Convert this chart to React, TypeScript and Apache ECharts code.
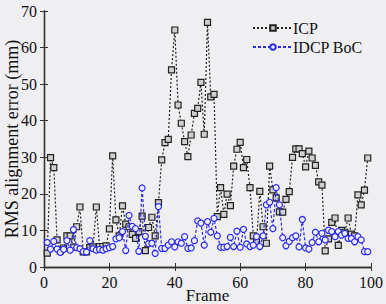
import React, { useEffect, useRef } from "react";
import * as echarts from "echarts";

const frames: number[] = Array.from({ length: 99 }, (_, i) => i + 1);

const icp: number[] = [
  3.8, 29.9, 27.2, 7.4, 4.4, 5.2, 8.5, 8.5, 5.4, 11,
  16.4, 4.1, 4.1, 5.3, 5.5, 16.4, 5.6, 5.6, 5.8, 10.4,
  30.4, 12.9, 8.5, 16.7, 11.7, 11, 8.9, 7.8, 9.7, 13.9,
  4.5, 10.8, 13.6, 8.5, 17.6, 29.3, 34, 34.9, 53.9, 64.8,
  44.3, 39.3, 34.3, 30.2, 36.1, 42, 43.4, 50.5, 36.3, 66.9,
  46.5, 47.2, 13.8, 21.7, 14.4, 19.9, 16.8, 27.6, 32.2, 34.1,
  27.2, 29.4, 21.7, 8.5, 6.9, 20.7, 11, 6.5, 27.6, 21.1,
  18.9, 15.1, 15, 18.5, 20.6, 30, 32.3, 32.3, 31, 27.4,
  31.7, 29.8, 27.8, 23.3, 22.4, 4.4, 7.7, 12.2, 13.4, 5.9,
  10, 9.5, 13.4, 9, 8.5, 19.7, 17, 21, 29.8,
];

const idcp: number[] = [
  6.7, 4.9, 7, 4.9, 4, 4.8, 7.2, 4.6, 10.2, 5.3,
  5, 4.2, 4.1, 7.2, 5, 4.6, 4.8, 4.6, 5, 5.3,
  5.6, 7.7, 8, 9.7, 4.5, 14.1, 11.1, 10.5, 4.3, 21.6,
  8.4, 6.4, 6.5, 3.7, 16.5, 5.1, 5.1, 6, 6.9, 5.5,
  6.9, 6.5, 8.3, 5.1, 5.2, 7.2, 12.6, 12, 6, 12.4,
  9.5, 13.3, 8.5, 5.4, 5.4, 5.6, 8.1, 5.6, 9.8, 5.4,
  10.3, 6.3, 5.6, 6, 8.3, 5.6, 8.5, 17, 17.7, 10.5,
  21.7, 17, 8, 5.8, 7, 8, 8.5, 5.5, 13, 5.2,
  4.9, 6.7, 9.5, 6.9, 9.2, 7.4, 10.1, 9.7, 8.3, 9.7,
  8.7, 9.2, 7.8, 7.8, 6.9, 8.3, 7.4, 4.2, 4.2,
];

const seriesNames = ["ICP", "IDCP BoC"];
const FONT = "'Liberation Serif', 'Times New Roman', serif";
const BG = "#efeef1";

export default function App() {
  const ref = useRef<HTMLDivElement>(null);
  useEffect(() => {
    document.body.style.margin = "0";
    document.body.style.background = BG;
    const chart = echarts.init(ref.current!, null, { renderer: "svg" });
    const axisLine = { show: true, lineStyle: { color: "#333", width: 1.3 } };
    const tick = { show: true, inside: true, length: 4, lineStyle: { color: "#333", width: 1 } };
    chart.setOption({
      animation: false,
      backgroundColor: BG,
      grid: { left: 44, right: 15, top: 11, bottom: 37, outerBoundsMode: "none", containLabel: false },
      legend: {
        orient: "vertical",
        left: 247,
        top: 15,
        itemWidth: 40,
        itemHeight: 7,
        itemGap: 3,
        textStyle: { fontFamily: FONT, fontSize: 16, color: "#111", padding: [0, 0, 0, -5] },
        data: seriesNames,
      },
      xAxis: [
        {
          type: "value",
          min: 0,
          max: 100,
          interval: 20,
          axisLine,
          axisTick: tick,
          splitLine: { show: false },
          axisLabel: { fontFamily: FONT, fontSize: 16, color: "#111", margin: 7 },
          name: "Frame",
          nameLocation: "middle",
          nameGap: 20,
          nameMoveOverlap: false,
          nameTextStyle: { fontFamily: FONT, fontSize: 17, color: "#111" },
        },
        {
          type: "value",
          position: "top",
          min: 0,
          max: 100,
          interval: 20,
          axisLine,
          axisTick: tick,
          axisLabel: { show: false },
          splitLine: { show: false },
        },
      ],
      yAxis: [
        {
          type: "value",
          min: 0,
          max: 70,
          interval: 10,
          axisLine,
          axisTick: tick,
          splitLine: { show: false },
          axisLabel: { fontFamily: FONT, fontSize: 16, color: "#111", margin: 7 },
          name: "RMS alignment error (mm)",
          nameLocation: "middle",
          nameGap: 23,
          nameMoveOverlap: false,
          nameTextStyle: { fontFamily: FONT, fontSize: 18, color: "#111" },
        },
        {
          type: "value",
          position: "right",
          min: 0,
          max: 70,
          interval: 10,
          axisLine,
          axisTick: tick,
          axisLabel: { show: false },
          splitLine: { show: false },
        },
      ],
      series: [
        {
          name: seriesNames[0],
          type: "line",
          data: frames.map((f, i) => [f, icp[i]]),
          symbol: "rect",
          symbolSize: 6,
          showAllSymbol: true,
          lineStyle: { color: "#222", width: 1.2, type: [2, 2] },
          itemStyle: { color: "#d0d0d0", borderColor: "#222", borderWidth: 1.2 },
          z: 2,
        },
        {
          name: seriesNames[1],
          type: "line",
          data: frames.map((f, i) => [f, idcp[i]]),
          symbol: "circle",
          symbolSize: 6,
          showAllSymbol: true,
          lineStyle: { color: "#2a2af0", width: 1.2, type: [3, 2] },
          itemStyle: { color: BG, borderColor: "#2a2af0", borderWidth: 1.2 },
          z: 3,
        },
      ],
    });
    return () => chart.dispose();
  }, []);
  return <div ref={ref} style={{ width: 386, height: 304 }} />;
}
